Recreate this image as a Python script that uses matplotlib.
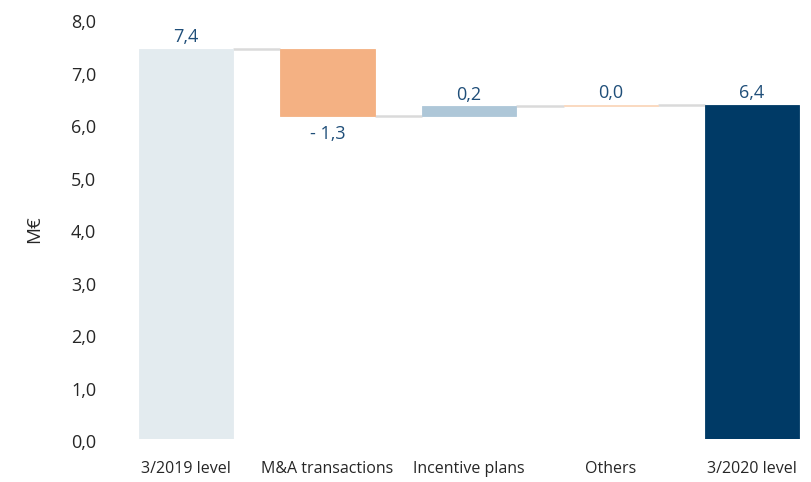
import matplotlib
matplotlib.use("Agg")
import matplotlib.pyplot as plt
import matplotlib.transforms as mtransforms
import numpy as np

categories = ["3/2019 level", "M&A transactions", "Incentive plans", "Others", "3/2020 level"]
values = [7.43, -1.28, 0.19, 0.03, 6.37]
kinds = ["total", "delta", "delta", "delta", "total"]
value_labels = ["7,4", "- 1,3", "0,2", "0,0", "6,4"]
colors = ["#E3EBEF", "#F4B183", "#AEC7D8", "#FAD7BC", "#003A66"]
yticks = [0, 1, 2, 3, 4, 5, 6, 7, 8]
ytick_labels = ["0,0", "1,0", "2,0", "3,0", "4,0", "5,0", "6,0", "7,0", "8,0"]

plt.rcParams['font.family'] = ['Open Sans', 'DejaVu Sans']

fig = plt.figure(figsize=(8.12, 4.82), dpi=100)
ax = fig.add_axes([0.1594, 0.0892, 0.8365, 0.871])

x = np.arange(len(categories))
width = 0.665
bottoms, heights = [], []
running = 0.0
for v, k in zip(values, kinds):
    if k == "total":
        bottoms.append(0.0)
        heights.append(v)
        running = v
    else:
        if v >= 0:
            bottoms.append(running)
            heights.append(v)
        else:
            bottoms.append(running + v)
            heights.append(-v)
        running += v

ax.bar(x, heights, bottom=bottoms, width=width, color=colors, edgecolor=colors,
       linewidth=0.6, zorder=2)

# connector lines
levels = []
running = 0.0
for v, k in zip(values, kinds):
    running = v if k == "total" else running + v
    levels.append(running)
for i in range(len(x) - 1):
    ax.plot([x[i] + width / 2, x[i + 1] - width / 2], [levels[i], levels[i]],
            color="#DADADA", lw=1.8, zorder=1, solid_capstyle="butt")

# value labels
for i, (v, k) in enumerate(zip(values, kinds)):
    top = bottoms[i] + heights[i]
    if v >= 0:
        ax.annotate(value_labels[i], (x[i], top), xytext=(0, 2), textcoords="offset points",
                    ha="center", va="bottom", fontsize=13, color="#1F4E79")
    else:
        ax.annotate(value_labels[i], (x[i], bottoms[i]), xytext=(0, -6), textcoords="offset points",
                    ha="center", va="top", fontsize=13, color="#1F4E79")

ax.set_xlim(-0.4, 4.4)
ax.set_ylim(0, 8.0)
ax.set_yticks(yticks)
ax.set_yticklabels(ytick_labels)
ax.set_xticks(x)
ax.set_xticklabels(categories)
ax.tick_params(axis="y", length=0, pad=24, labelsize=13, labelcolor="#262626")
ax.tick_params(axis="x", length=0, pad=16, labelsize=11.5, labelcolor="#262626")
offset = mtransforms.ScaledTranslation(0, -4 / 100, fig.dpi_scale_trans)
for lbl in ax.get_yticklabels():
    lbl.set_va("center")
    lbl.set_transform(lbl.get_transform() + offset)
for s in ax.spines.values():
    s.set_visible(False)
ax.set_ylabel("M€", fontsize=13.5, color="#262626", labelpad=20)

fig.savefig("out.png", dpi=100)
